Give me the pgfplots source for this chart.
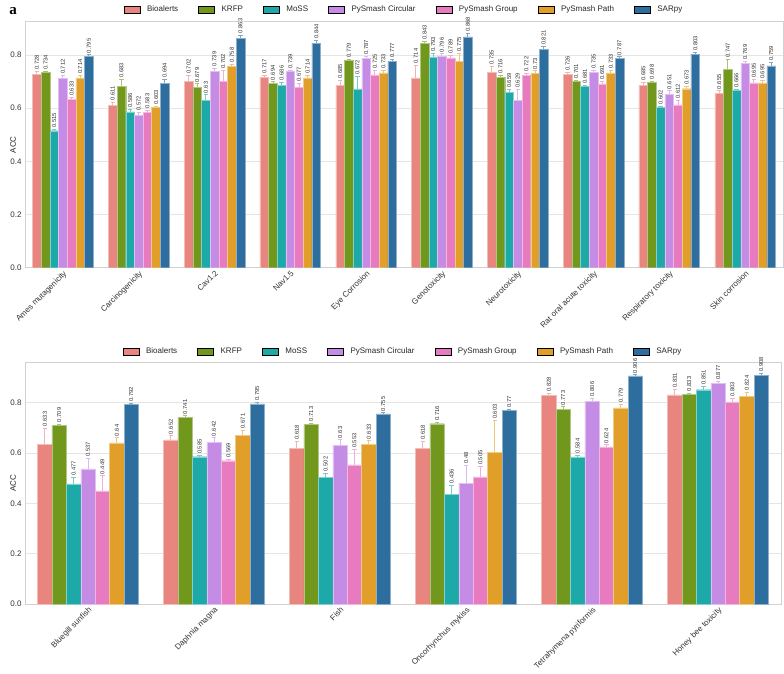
\documentclass[border=0pt]{standalone}
\usepackage{pgfplots}
\usepackage{pgfplotstable}
\pgfplotsset{compat=1.18}
\usepackage{fontspec}
\setmainfont{Liberation Sans}
\newfontfamily\panelfont{Liberation Serif}

% method colours
\definecolor{cBio}{HTML}{E8857F}
\definecolor{cKrfp}{HTML}{71971D}
\definecolor{cMoss}{HTML}{1DA9A8}
\definecolor{cCirc}{HTML}{C58CE6}
\definecolor{cGrp}{HTML}{E87ABF}
\definecolor{cPath}{HTML}{E19F2A}
\definecolor{cSar}{HTML}{2E6E9E}

% accuracy (mean) and its spread for each endpoint
\pgfplotstableread{
bio bioE krfp krfpE moss mossE circ circE grp grpE path pathE sar sarE
0.728 0.010 0.734 0.005 0.515 0.006 0.712 0.010 0.633 0.006 0.714 0.008 0.795 0.005
0.611 0.012 0.683 0.025 0.586 0.010 0.572 0.012 0.583 0.010 0.603 0.004 0.694 0.014
0.702 0.020 0.679 0.012 0.630 0.020 0.739 0.012 0.702 0.040 0.758 0.008 0.863 0.012
0.717 0.006 0.694 0.005 0.686 0.012 0.739 0.004 0.677 0.016 0.714 0.008 0.844 0.010
0.685 0.020 0.779 0.004 0.672 0.048 0.787 0.008 0.725 0.018 0.733 0.008 0.777 0.006
0.714 0.048 0.843 0.008 0.793 0.012 0.796 0.008 0.789 0.008 0.775 0.030 0.868 0.014
0.735 0.022 0.716 0.008 0.659 0.010 0.629 0.040 0.722 0.010 0.730 0.010 0.821 0.010
0.726 0.008 0.701 0.004 0.681 0.004 0.735 0.006 0.691 0.010 0.733 0.010 0.787 0.006
0.685 0.012 0.698 0.004 0.602 0.004 0.651 0.014 0.612 0.018 0.673 0.008 0.803 0.006
0.655 0.010 0.747 0.036 0.666 0.004 0.769 0.008 0.695 0.012 0.695 0.008 0.759 0.014
}\tabTox

\pgfplotstableread{
bio bioE krfp krfpE moss mossE circ circE grp grpE path pathE sar sarE
0.633 0.066 0.709 0.006 0.477 0.025 0.537 0.042 0.449 0.060 0.640 0.020 0.792 0.006
0.652 0.016 0.741 0.006 0.585 0.004 0.642 0.018 0.569 0.006 0.671 0.020 0.795 0.006
0.618 0.028 0.713 0.006 0.502 0.018 0.630 0.022 0.553 0.060 0.633 0.015 0.755 0.004
0.618 0.028 0.716 0.006 0.436 0.036 0.480 0.070 0.505 0.040 0.603 0.125 0.770 0.004
0.828 0.008 0.773 0.010 0.584 0.008 0.806 0.012 0.624 0.008 0.779 0.015 0.906 0.004
0.831 0.022 0.833 0.005 0.851 0.014 0.877 0.006 0.803 0.014 0.824 0.018 0.908 0.008
}\tabEco

\def\bw{0.1143}

% one method: bars with upper error bars and rotated value labels
% #1 table, #2 column, #3 colour, #4 slot (-3..3)
\newcommand{\methodbars}[4]{%
  \addplot[ybar, bar width=\bw, bar shift=0pt, fill=#3, draw=#3!55!white,
    line width=0.4pt, forget plot,
    error bars/.cd, y dir=plus, y explicit,
    error bar style={#3!60!white, line width=0.9pt},
    error mark options={#3!60!white, rotate=90, mark size=2.2pt, line width=0.9pt}]
    table[x expr=\coordindex+#4*\bw, y=#2, y error=#2E] {#1};
  \addplot[only marks, mark=none, forget plot, point meta=explicit,
    nodes near coords={\pgfmathprintnumber[fixed,precision=3]{\pgfplotspointmeta}},
    nodes near coords style={rotate=90, anchor=west, inner sep=1.6pt,
      font=\fontsize{5.8}{6}\selectfont, text=black!80}]
    table[x expr=\coordindex+#4*\bw, y expr=\thisrow{#2}+\thisrow{#2E}, meta=#2] {#1};
}

\newcommand{\legendkeys}{%
  \addlegendimage{fill=cBio}\addlegendentry{Bioalerts}
  \addlegendimage{fill=cKrfp}\addlegendentry{KRFP}
  \addlegendimage{fill=cMoss}\addlegendentry{MoSS}
  \addlegendimage{fill=cCirc}\addlegendentry{PySmash Circular}
  \addlegendimage{fill=cGrp}\addlegendentry{PySmash Group}
  \addlegendimage{fill=cPath}\addlegendentry{PySmash Path}
  \addlegendimage{fill=cSar}\addlegendentry{SARpy}
}

\newcommand{\allmethods}[1]{%
  \methodbars{#1}{bio}{cBio}{-3}
  \methodbars{#1}{krfp}{cKrfp}{-2}
  \methodbars{#1}{moss}{cMoss}{-1}
  \methodbars{#1}{circ}{cCirc}{0}
  \methodbars{#1}{grp}{cGrp}{1}
  \methodbars{#1}{path}{cPath}{2}
  \methodbars{#1}{sar}{cSar}{3}
}

\pgfplotsset{
  accpanel/.style={
    scale only axis, anchor=south west,
    ymin=0, xmin=-0.5,
    /pgf/number format/assume math mode=true,
    ytick={0,0.2,0.4,0.6,0.8},
    yticklabel style={/pgf/number format/.cd, fixed, fixed zerofill, precision=1},
    tick label style={font=\fontsize{8}{9}\selectfont, text=black!80},
    xticklabel style={rotate=45, anchor=north east, inner sep=1.5pt},
    ymajorgrids, grid style={black!10, line width=0.8pt},
    axis line style={black!18, line width=0.8pt},
    major tick length=0pt,
    ylabel={ACC},
    every axis y label/.style={at={(axis description cs:0,0.5)}, rotate=90,
      anchor=center, yshift=12pt, font=\fontsize{8}{9}\selectfont, text=black!85},
    legend image code/.code={\fill[##1] (0pt,-3.5pt) rectangle (16pt,3.5pt);},
    legend style={at={(0.5,1)}, anchor=south, draw=none, fill=none,
      legend columns=7, font=\fontsize{8}{9}\selectfont,
      /tikz/every odd column/.append style={column sep=5pt},
      /tikz/every even column/.append style={column sep=18pt},
      nodes={inner sep=2pt, text=black!85}},
    legend cell align=left,
  }
}

\begin{document}
\begin{tikzpicture}
\useasboundingbox (0,0) rectangle (784pt,-674pt);

\begin{axis}[accpanel,
  at={(25pt,-267.7pt)}, width=758pt, height=246pt,
  xmax=9.5, ymax=0.925,
  xtick={0,...,9},
  xticklabels={Ames mutagenicity, Carcinogenicity, Cav1.2, Nav1.5, Eye Corrosion,
    Genotoxicity, Neurotoxicity, Rat oral acute toxicity, Respiratory toxicity, Skin corrosion},
  legend style={yshift=4pt}]
  \legendkeys
  \allmethods{\tabTox}
\end{axis}

\begin{axis}[accpanel,
  at={(25pt,-604pt)}, width=756pt, height=241.7pt,
  xmax=5.5, ymax=0.96,
  xtick={0,...,5},
  xticklabels={Bluegill sunfish, Daphnia magna, Fish, Oncorhynchus mykiss,
    Tetrahymena pyriformis, Honey bee toxicity},
  legend style={yshift=3pt}]
  \legendkeys
  \allmethods{\tabEco}
\end{axis}

\node[font=\panelfont\bfseries\fontsize{15}{15}\selectfont] at (13pt,-11pt) {a};
\end{tikzpicture}
\end{document}
